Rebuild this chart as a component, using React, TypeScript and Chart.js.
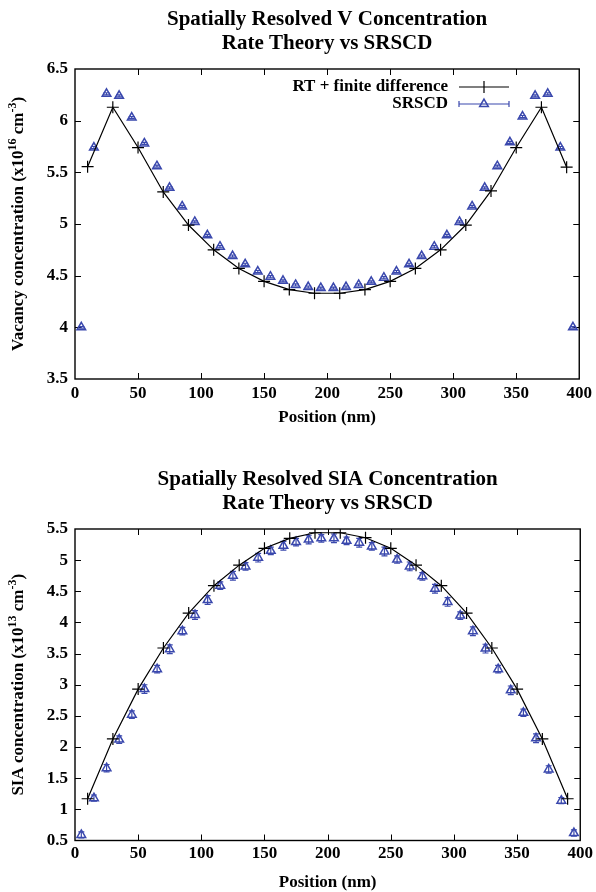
import React, { useEffect, useRef } from 'react';
import { Chart, registerables } from 'chart.js';

Chart.register(...registerables);

const FONT = "'Liberation Serif', 'Times New Roman', Times, serif";
const BLUE = '#3a48ad';

// ---------- data ----------
const rtPositions = [10, 30, 50, 70, 90, 110, 130, 150, 170, 190, 210, 230, 250, 270, 290, 310, 330, 350, 370, 390];
const srscdPositions = [5, 15, 25, 35, 45, 55, 65, 75, 85, 95, 105, 115, 125, 135, 145, 155, 165, 175, 185, 195,
  205, 215, 225, 235, 245, 255, 265, 275, 285, 295, 305, 315, 325, 335, 345, 355, 365, 375, 385, 395];

const rtVacancy = [5.555, 6.13, 5.74, 5.31, 4.99, 4.75, 4.57, 4.445, 4.365, 4.33,
  4.33, 4.365, 4.445, 4.57, 4.75, 4.99, 5.32, 5.74, 6.13, 5.55];
const srscdVacancy = [4.0, 5.74, 6.26, 6.24, 6.03, 5.78, 5.56, 5.35, 5.17, 5.02,
  4.89, 4.78, 4.69, 4.61, 4.54, 4.49, 4.45, 4.41, 4.39, 4.38,
  4.38, 4.39, 4.41, 4.44, 4.48, 4.54, 4.61, 4.69, 4.78, 4.89,
  5.02, 5.17, 5.35, 5.56, 5.79, 6.04, 6.24, 6.26, 5.74, 4.0];
const srscdVacancyErr = [0.008, 0.01, 0.01, 0.01, 0.01, 0.01, 0.01, 0.01, 0.01, 0.01,
  0.01, 0.01, 0.01, 0.01, 0.01, 0.01, 0.01, 0.01, 0.01, 0.01,
  0.01, 0.01, 0.01, 0.01, 0.01, 0.01, 0.01, 0.01, 0.01, 0.01,
  0.01, 0.01, 0.01, 0.01, 0.01, 0.01, 0.01, 0.01, 0.01, 0.008];

const rtSIA = [1.17, 2.13, 2.93, 3.59, 4.15, 4.59, 4.92, 5.19, 5.35, 5.44,
  5.44, 5.36, 5.19, 4.92, 4.59, 4.15, 3.59, 2.93, 2.13, 1.17];
const srscdSIA = [0.59, 1.18, 1.66, 2.12, 2.52, 2.93, 3.25, 3.57, 3.86, 4.12,
  4.36, 4.59, 4.75, 4.90, 5.04, 5.15, 5.23, 5.29, 5.33, 5.35,
  5.35, 5.31, 5.28, 5.22, 5.14, 5.01, 4.90, 4.74, 4.54, 4.33,
  4.11, 3.86, 3.58, 3.25, 2.91, 2.55, 2.14, 1.64, 1.14, 0.62];
const srscdSIAErr = [0.05, 0.05, 0.06, 0.06, 0.06, 0.07, 0.06, 0.07, 0.06, 0.07,
  0.07, 0.06, 0.07, 0.06, 0.07, 0.06, 0.07, 0.06, 0.07, 0.06,
  0.07, 0.06, 0.07, 0.06, 0.07, 0.06, 0.07, 0.06, 0.07, 0.07,
  0.06, 0.07, 0.07, 0.06, 0.07, 0.06, 0.07, 0.06, 0.05, 0.05];

const xTicksStep = 50;
const vacancyTitle = ['Spatially Resolved V Concentration', 'Rate Theory vs SRSCD'];
const siaTitle = ['Spatially Resolved SIA Concentration', 'Rate Theory vs SRSCD'];
const vacancyYLabel = [
  { t: 'Vacancy concentration (x10', sup: false },
  { t: '16', sup: true },
  { t: ' cm', sup: false },
  { t: '-3', sup: true },
  { t: ')', sup: false },
];
const siaYLabel = [
  { t: 'SIA concentration (x10', sup: false },
  { t: '13', sup: true },
  { t: ' cm', sup: false },
  { t: '-3', sup: true },
  { t: ')', sup: false },
];
const legendLabels = ['RT + finite difference', 'SRSCD'];

// ---------- plugin ----------
const gpPlugin = {
  id: 'gp',
  beforeDatasetsDraw(chart: any, _args: any, opts: any) {
    const { ctx, chartArea: a, scales } = chart;
    const x = scales.x, y = scales.y;
    ctx.save();
    ctx.strokeStyle = '#000';
    ctx.lineWidth = 1;
    ctx.beginPath();
    for (const t of x.ticks) {
      const px = Math.round(x.getPixelForValue(t.value)) + 0.5;
      if (t.value <= x.min || t.value >= x.max) continue;
      ctx.moveTo(px, a.bottom); ctx.lineTo(px, a.bottom - 6);
      ctx.moveTo(px, a.top); ctx.lineTo(px, a.top + 6);
    }
    for (const t of y.ticks) {
      const py = Math.round(y.getPixelForValue(t.value)) + 0.5;
      if (t.value <= y.min || t.value >= y.max) continue;
      ctx.moveTo(a.left, py); ctx.lineTo(a.left + 6, py);
      ctx.moveTo(a.right, py); ctx.lineTo(a.right - 6, py);
    }
    ctx.stroke();
    ctx.lineWidth = 1.4;
    ctx.strokeRect(a.left, a.top, a.right - a.left, a.bottom - a.top);

    // error bars
    const errs: number[] = opts.errors || [];
    const ds = chart.data.datasets[1];
    ctx.strokeStyle = BLUE;
    ctx.lineWidth = 1.2;
    ctx.beginPath();
    ds.data.forEach((p: any, i: number) => {
      const e = errs[i] || 0;
      const px = x.getPixelForValue(p.x);
      const y1 = y.getPixelForValue(p.y - e);
      const y2 = y.getPixelForValue(p.y + e);
      ctx.moveTo(px, y1); ctx.lineTo(px, y2);
      ctx.moveTo(px - 3, y1); ctx.lineTo(px + 3, y1);
      ctx.moveTo(px - 3, y2); ctx.lineTo(px + 3, y2);
    });
    ctx.stroke();
    ctx.restore();
  },
  afterDraw(chart: any, _args: any, opts: any) {
    const { ctx, chartArea: a } = chart;
    ctx.save();
    // y-axis label with superscripts
    const parts = opts.yLabel || [];
    const big = `bold 17px ${FONT}`;
    const small = `bold 12px ${FONT}`;
    let total = 0;
    for (const p of parts) { ctx.font = p.sup ? small : big; total += ctx.measureText(p.t).width; }
    ctx.translate(opts.yLabelX, (a.top + a.bottom) / 2);
    ctx.rotate(-Math.PI / 2);
    ctx.fillStyle = '#000';
    ctx.textBaseline = 'middle';
    ctx.textAlign = 'left';
    let cx = -total / 2;
    for (const p of parts) {
      ctx.font = p.sup ? small : big;
      ctx.fillText(p.t, cx, p.sup ? -6 : 0);
      cx += ctx.measureText(p.t).width;
    }
    ctx.restore();

    if (opts.legend) {
      ctx.save();
      ctx.font = big;
      ctx.fillStyle = '#000';
      ctx.textAlign = 'right';
      ctx.textBaseline = 'middle';
      const tx = 448, l0 = 459, l1 = 509, mx = 484;
      const rows = [87, 104];
      ctx.fillText(legendLabels[0], tx, rows[0]);
      ctx.fillText(legendLabels[1], tx, rows[1]);
      ctx.strokeStyle = '#000';
      ctx.lineWidth = 1.2;
      ctx.beginPath();
      ctx.moveTo(l0, rows[0]); ctx.lineTo(l1, rows[0]);
      ctx.moveTo(mx - 6, rows[0]); ctx.lineTo(mx + 6, rows[0]);
      ctx.moveTo(mx, rows[0] - 6); ctx.lineTo(mx, rows[0] + 6);
      ctx.stroke();
      ctx.strokeStyle = BLUE;
      ctx.beginPath();
      ctx.moveTo(l0, rows[1]); ctx.lineTo(l1, rows[1]);
      ctx.moveTo(l0, rows[1] - 3); ctx.lineTo(l0, rows[1] + 3);
      ctx.moveTo(l1, rows[1] - 3); ctx.lineTo(l1, rows[1] + 3);
      ctx.stroke();
      // triangle
      const r = 5;
      ctx.beginPath();
      ctx.moveTo(mx, rows[1] - r);
      ctx.lineTo(mx + r * Math.sin(Math.PI * 2 / 3), rows[1] + r * 0.5);
      ctx.lineTo(mx - r * Math.sin(Math.PI * 2 / 3), rows[1] + r * 0.5);
      ctx.closePath();
      ctx.fillStyle = '#fff';
      ctx.fill();
      ctx.lineWidth = 1.5;
      ctx.stroke();
      ctx.beginPath();
      ctx.moveTo(mx - 3, rows[1]); ctx.lineTo(mx + 3, rows[1]);
      ctx.lineWidth = 1.2;
      ctx.stroke();
      ctx.restore();
    }
  },
};

const tickFont = { family: FONT, size: 17, weight: 'bold' as const };
const fmt = (v: any) => String(Math.round(Number(v) * 10) / 10);

function makeConfig(p: {
  title: string[]; rt: number[]; sr: number[]; err: number[]; yMin: number; yMax: number;
  yLabel: any[]; legend: boolean; titlePadTop: number; xAxisH: number; tickPad: number;
  xTitleLH: number; xTitlePadBottom: number;
}) {
  return {
    type: 'line' as const,
    data: {
      datasets: [
        {
          label: legendLabels[0],
          data: rtPositions.map((v, i) => ({ x: v, y: p.rt[i] })),
          borderColor: '#000',
          borderWidth: 1.2,
          pointStyle: 'cross',
          pointRadius: 6,
          pointBorderColor: '#000',
          pointBorderWidth: 1.2,
          tension: 0,
          fill: false,
        },
        {
          label: legendLabels[1],
          data: srscdPositions.map((v, i) => ({ x: v, y: p.sr[i] })),
          showLine: false,
          pointStyle: 'triangle',
          pointRadius: 5,
          pointBackgroundColor: 'rgba(255,255,255,0)',
          pointBorderColor: BLUE,
          pointBorderWidth: 1.5,
        },
      ],
    },
    options: {
      responsive: false,
      animation: false as const,
      layout: { padding: { left: 0, right: 13, top: 0, bottom: 0 } },
      plugins: {
        legend: { display: false },
        tooltip: { enabled: false },
        title: {
          display: true,
          fullSize: false,
          text: p.title,
          color: '#000',
          font: { family: FONT, size: 21, weight: 'bold' as const, lineHeight: '24px' },
          padding: { top: p.titlePadTop, bottom: 13 },
        },
        gp: { errors: p.err, yLabel: p.yLabel, yLabelX: 19, legend: p.legend },
      },
      scales: {
        x: {
          type: 'linear' as const,
          min: 0,
          max: 400,
          ticks: { stepSize: xTicksStep, color: '#000', font: tickFont, padding: p.tickPad, maxRotation: 0, autoSkip: false, callback: fmt },
          grid: { display: false, drawTicks: false },
          border: { display: false },
          title: {
            display: true,
            text: 'Position (nm)',
            color: '#000',
            font: { ...tickFont, lineHeight: p.xTitleLH },
            padding: { top: 0, bottom: p.xTitlePadBottom },
          },
          afterFit: (s: any) => { s.height = p.xAxisH; },
        },
        y: {
          type: 'linear' as const,
          min: p.yMin,
          max: p.yMax,
          ticks: { stepSize: 0.5, color: '#000', font: tickFont, padding: 7, callback: fmt },
          grid: { display: false, drawTicks: false },
          border: { display: false },
          afterFit: (s: any) => { s.width = 75; },
        },
      },
    },
    plugins: [gpPlugin],
  };
}

function ChartCanvas({ config, top }: { config: any; top: number }) {
  const ref = useRef<HTMLCanvasElement | null>(null);
  useEffect(() => {
    if (!ref.current) return;
    const chart = new Chart(ref.current, config);
    return () => chart.destroy();
  }, [config]);
  return (
    <canvas
      ref={ref}
      width={596}
      height={446}
      style={{ position: 'absolute', left: 0, top, width: 596, height: 446 }}
    />
  );
}

const vacancyConfig = makeConfig({
  title: vacancyTitle, rt: rtVacancy, sr: srscdVacancy, err: srscdVacancyErr,
  yMin: 3.5, yMax: 6.5, yLabel: vacancyYLabel, legend: true,
  titlePadTop: 8, xAxisH: 67, tickPad: 4, xTitleLH: 1.2, xTitlePadBottom: 17.8,
});
const siaConfig = makeConfig({
  title: siaTitle, rt: rtSIA, sr: srscdSIA, err: srscdSIAErr,
  yMin: 0.5, yMax: 5.5, yLabel: siaYLabel, legend: false,
  titlePadTop: 22, xAxisH: 51.5, tickPad: 3, xTitleLH: 1.0, xTitlePadBottom: 0.5,
});

export default function App() {
  return (
    <div style={{ position: 'absolute', left: 0, top: 0, width: 596, height: 892, background: '#fff' }}>
      <ChartCanvas config={vacancyConfig} top={0} />
      <ChartCanvas config={siaConfig} top={446} />
    </div>
  );
}
